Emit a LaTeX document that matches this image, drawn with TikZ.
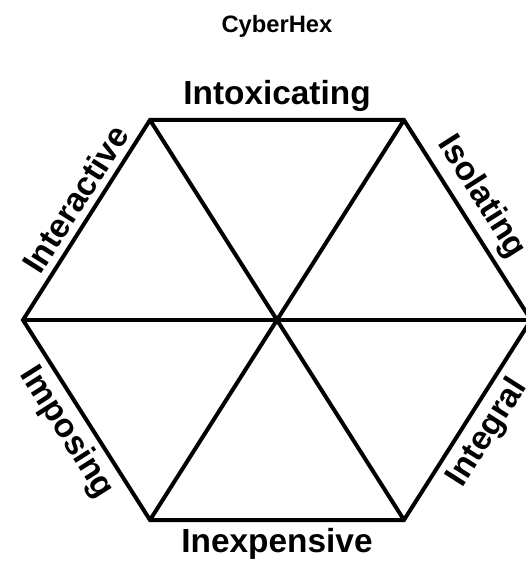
\documentclass[tikz,border=0pt]{standalone}
\usepackage{fontspec}
\setmainfont{Liberation Sans}
\begin{document}
\begin{tikzpicture}[
        hexline/.style={line width=0.08cm},
        sidelabel/.style={font=\bfseries\fontsize{19}{21}\selectfont, inner sep=0.45em},
    ]
        \useasboundingbox (-5.54,-4.88) rectangle (4.98,6.4);
        % Corners
        \coordinate (O) at (0,0);
        \coordinate (L) at (-5.08,0);
        \coordinate (R) at (5.08,0);
        \coordinate (TL) at (-2.54,4);
        \coordinate (TR) at (2.54,4);
        \coordinate (BL) at (-2.54,-4);
        \coordinate (BR) at (2.54,-4);
        % Title
        \node[font=\bfseries\fontsize{13.5}{16}\selectfont, anchor=base] (title) at (0,5.74) {CyberHex};
        % Outline and spokes
        \draw[hexline] (L) -- (TL) -- (TR) -- (R) -- (BR) -- (BL) -- cycle;
        \draw[hexline] (L) -- (R);
        \draw[hexline] (TL) -- (BR);
        \draw[hexline] (TR) -- (BL);
        % Side labels
        \path (TL) -- (TR) node[sidelabel, midway, above] (intoxicating) {Intoxicating};
        \path (TR) -- (R) node[sidelabel, pos=0.45, sloped, above] (isolating) {Isolating};
        \path (BR) -- (R) node[sidelabel, midway, sloped, below] (integral) {Integral};
        \path (BL) -- (BR) node[sidelabel, midway, below] (inexpensive) {Inexpensive};
        \path (L) -- (BL) node[sidelabel, midway, sloped, below] (imposing) {Imposing};
        \path (L) -- (TL) node[sidelabel, pos=0.55, sloped, above] (interactive) {Interactive};
    \end{tikzpicture}
\end{document}
